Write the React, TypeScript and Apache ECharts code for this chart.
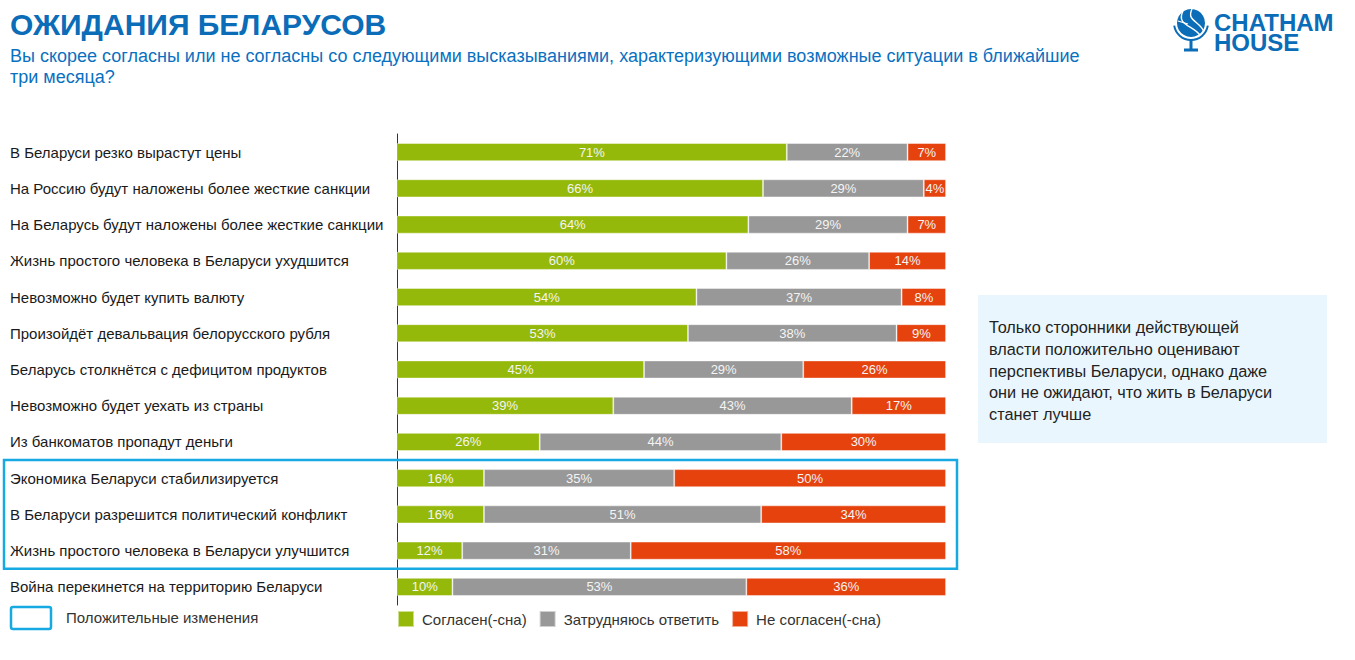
import React, { useEffect, useRef } from "react";
import * as echarts from "echarts";

const categories = [
  "В Беларуси резко вырастут цены",
  "На Россию будут наложены более жесткие санкции",
  "На Беларусь будут наложены более жесткие санкции",
  "Жизнь простого человека в Беларуси ухудшится",
  "Невозможно будет купить валюту",
  "Произойдёт девальвация белорусского рубля",
  "Беларусь столкнётся с дефицитом продуктов",
  "Невозможно будет уехать из страны",
  "Из банкоматов пропадут деньги",
  "Экономика Беларуси стабилизируется",
  "В Беларуси разрешится политический конфликт",
  "Жизнь простого человека в Беларуси улучшится",
  "Война перекинется на территорию Беларуси",
];
const agree = [71, 66, 64, 60, 54, 53, 45, 39, 26, 16, 16, 12, 10];
const unsure = [22, 29, 29, 26, 37, 38, 29, 43, 44, 35, 51, 31, 53];
const disagree = [7, 4, 7, 14, 8, 9, 26, 17, 30, 50, 34, 58, 36];
const seriesNames = ["Согласен(-сна)", "Затрудняюсь ответить", "Не согласен(-сна)"];
const seriesColors = ["#95b90a", "#989898", "#e5420e"];
const highlightedRows = [9, 11]; // first and last highlighted category index

const title = "ОЖИДАНИЯ БЕЛАРУСОВ";
const subtitle =
  "Вы скорее согласны или не согласны со следующими высказываниями, характеризующими возможные ситуации в ближайшие\nтри месяца?";
const note =
  "Только сторонники действующей\nвласти положительно оценивают\nперспективы Беларуси, однако даже\nони не ожидают, что жить в Беларуси\nстанет лучше";
const boxLegend = "Положительные изменения";

const FONT = "'Liberation Sans', Arial, sans-serif";
const BLUE = "#0b6cb7";
const LIGHTBLUE = "#17a9e1";

export default function App() {
  const ref = useRef<HTMLDivElement>(null);
  useEffect(() => {
    document.body.style.margin = "0";
    const chart = echarts.init(ref.current!, undefined, { renderer: "svg" });
    const raw = [agree, unsure, disagree];
    const totals = categories.map((_, i) => agree[i] + unsure[i] + disagree[i]);
    const series = raw.map((arr, s) => ({
      name: seriesNames[s],
      type: "bar",
      stack: "all",
      barWidth: 18,
      data: arr.map((v, i) => ({ value: (v / totals[i]) * 100, raw: v })),
      itemStyle: {
        color: seriesColors[s],
        borderColor: "rgba(255,255,255,0.55)",
        borderWidth: 0.8,
      },
      label: {
        show: true,
        position: "inside",
        formatter: (p: any) => p.data.raw + "%",
        color: "#f4f4f4",
        fontSize: 13,
        fontFamily: FONT,
      },
    }));

    const gridTop = 134;
    const gridHeight = 471;
    chart.setOption({
      animation: false,
      grid: { left: 397, width: 549, top: gridTop, height: gridHeight, containLabel: false },
      xAxis: { type: "value", min: 0, max: 100, show: false },
      yAxis: {
        type: "category",
        data: categories,
        inverse: true,
        axisLine: { show: true, lineStyle: { color: "#333", width: 1 } },
        axisTick: { show: false },
        axisLabel: {
          align: "left",
          margin: 387,
          fontSize: 15,
          color: "#1a1a1a",
          fontFamily: FONT,
        },
      },
      legend: {
        left: 397,
        top: 610,
        padding: 0,
        itemWidth: 16,
        itemHeight: 16,
        itemGap: 12,
        icon: "rect",
        data: seriesNames,
        textStyle: { fontSize: 15, color: "#333", fontFamily: FONT, padding: [0, 0, 0, 3] },
        selectedMode: false,
      },
      series,
    });

    const band = gridHeight / categories.length;
    const yTop = gridTop + band * highlightedRows[0];
    const yBot = gridTop + band * (highlightedRows[1] + 1);

    chart.setOption({
      graphic: [
        {
          type: "text",
          left: 10,
          top: 9,
          style: { text: title, font: `bold 30px ${FONT}`, fill: BLUE },
        },
        {
          type: "text",
          left: 10,
          top: 45,
          style: { text: subtitle, font: `18px ${FONT}`, fill: "#0a70c0", lineHeight: 21 },
        },
        // logo
        { type: "circle", shape: { cx: 1191, cy: 23, r: 14 }, style: { fill: BLUE } },
        {
          type: "bezierCurve",
          shape: { x1: 1183, y1: 11, x2: 1200, y2: 35, cpx1: 1176, cpy1: 25, cpx2: 1192, cpy2: 25 },
          style: { stroke: "#fff", lineWidth: 1.4, fill: null },
        },
        {
          type: "bezierCurve",
          shape: { x1: 1192, y1: 9, x2: 1204, y2: 32, cpx1: 1186, cpy1: 21, cpx2: 1200, cpy2: 21 },
          style: { stroke: "#fff", lineWidth: 1.4, fill: null },
        },
        {
          type: "line",
          shape: { x1: 1178, y1: 21, x2: 1188, y2: 24 },
          style: { stroke: "#fff", lineWidth: 1.2 },
        },
        {
          type: "arc",
          shape: { cx: 1191, cy: 23, r: 17, startAngle: Math.PI * 0.05, endAngle: Math.PI * 0.95, clockwise: true },
          style: { stroke: BLUE, lineWidth: 2, fill: null },
        },
        { type: "rect", shape: { x: 1189.5, y: 40, width: 3, height: 9 }, style: { fill: BLUE } },
        { type: "rect", shape: { x: 1184, y: 48.5, width: 14, height: 3 }, style: { fill: BLUE } },
        {
          type: "text",
          left: 1214,
          top: 10,
          style: { text: "CHATHAM\nHOUSE", font: `bold 24px ${FONT}`, fill: BLUE, lineHeight: 20 },
        },
        // note box
        {
          type: "rect",
          shape: { x: 978, y: 295, width: 349, height: 148 },
          style: { fill: "#eaf6fd" },
        },
        {
          type: "text",
          left: 989,
          top: 316,
          style: { text: note, font: `16.3px ${FONT}`, fill: "#222", lineHeight: 21.8 },
        },
        // highlight box
        {
          type: "rect",
          shape: { x: 4, y: yTop, width: 953, height: yBot - yTop },
          style: { fill: null, stroke: LIGHTBLUE, lineWidth: 2.5 },
          z: 10,
        },
        {
          type: "rect",
          shape: { x: 11, y: 607, width: 40, height: 22, r: 2 },
          style: { fill: "#fff", stroke: LIGHTBLUE, lineWidth: 2.5 },
        },
        {
          type: "text",
          left: 66,
          top: 610,
          style: { text: boxLegend, font: `15px ${FONT}`, fill: "#333" },
        },
      ],
    });
    return () => chart.dispose();
  }, []);
  return (
    <div
      ref={ref}
      style={{ position: "fixed", left: 0, top: 0, width: 1355, height: 660, background: "#fff" }}
    />
  );
}
